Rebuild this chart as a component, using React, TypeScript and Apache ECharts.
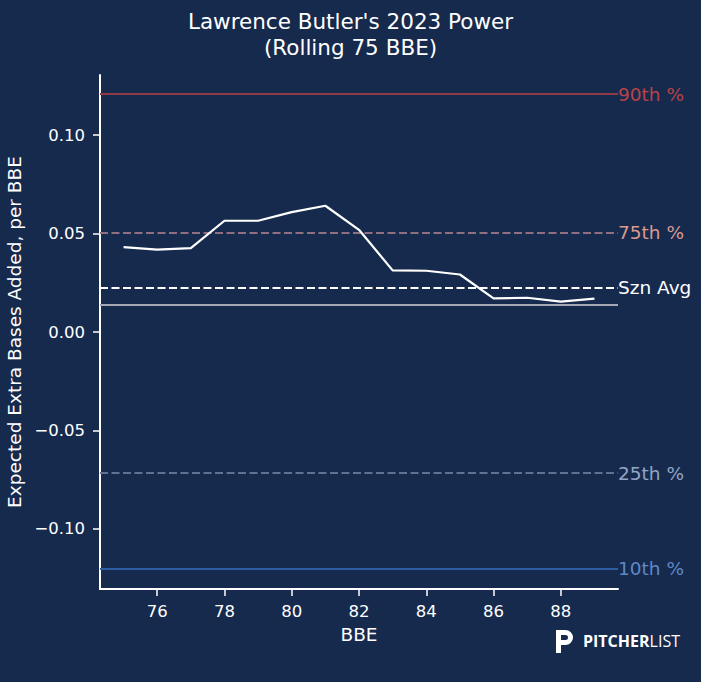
import React, { useEffect, useRef } from 'react';
import * as echarts from 'echarts';

// rolling 75 BBE window end points
const bbe = [75, 76, 77, 78, 79, 80, 81, 82, 83, 84, 85, 86, 87, 88, 89];
const xbaAdded = [
  0.0431, 0.0418, 0.0426, 0.0565, 0.0565, 0.0609, 0.0641, 0.0519, 0.0313, 0.0311,
  0.0292, 0.0171, 0.0174, 0.0154, 0.0169,
];

// reference lines (percentiles, season average, league line)
const refNames = ['90th %', '75th %', 'Szn Avg', '', '25th %', '10th %'];
const refValues = [0.1208, 0.0506, 0.0226, 0.0139, -0.0716, -0.1203];

const xTicks = [76, 78, 80, 82, 84, 86, 88];
const yTicks = [-0.1, -0.05, 0, 0.05, 0.1];

const refLineColors = ['#8e3a47', '#8f6f80', '#ffffff', '#a3a8b2', '#5f7292', '#2f5da3'];
const refTextColors = ['#b9434a', '#d99a90', '#ffffff', '#a3a8b2', '#92a6c6', '#5e88c6'];
const refDashed = [false, true, true, false, true, false];

const BG = '#162a4d';
const FONT = 'DejaVu Sans';

const pLogo =
  'M0 0 H9.5 A7.5 7.5 0 0 1 9.5 15 H5 V23 H0 Z M5 5 V10 H9.5 A2.5 2.5 0 0 0 9.5 5 Z';
echarts.graphic.registerShape('plLogo', echarts.graphic.extendPath(pLogo, {}));

const fmtY = (v: number) => (v < -1e-9 ? '\u2212' : '') + Math.abs(v).toFixed(2);

const App = () => {
  const chartRef = useRef<HTMLDivElement>(null);

  useEffect(() => {
    const chart = echarts.init(chartRef.current, null, { renderer: 'svg' });

    const option = {
      animation: false,
      backgroundColor: BG,
      textStyle: { fontFamily: FONT },
      title: [
        {
          text: "Lawrence Butler's 2023 Power",
          left: 'center',
          top: 5,
          textStyle: { color: '#fff', fontSize: 21.5, fontWeight: 'normal', fontFamily: FONT },
        },
        {
          text: '(Rolling 75 BBE)',
          left: 'center',
          top: 31,
          textStyle: { color: '#fff', fontSize: 21.5, fontWeight: 'normal', fontFamily: FONT },
        },
      ],
      grid: { left: 100, top: 75, width: 518, height: 514, outerBoundsMode: 'none', containLabel: false },
      xAxis: {
        type: 'value',
        min: 74.3,
        max: 89.7,
        name: 'BBE',
        nameLocation: 'middle',
        nameGap: 35,
        nameTextStyle: { color: '#fff', fontSize: 18.5, fontFamily: FONT },
        axisLine: { show: true, onZero: false, lineStyle: { color: '#fff', width: 2 } },
        axisTick: {
          show: true,
          length: 7,
          customValues: xTicks,
          lineStyle: { color: '#fff', width: 1.5 },
        },
        axisLabel: {
          customValues: xTicks,
          color: '#fff',
          fontSize: 16.5,
          margin: 14,
          fontFamily: FONT,
        },
        splitLine: { show: false },
      },
      yAxis: {
        type: 'value',
        min: -0.1305,
        max: 0.1305,
        name: 'Expected Extra Bases Added, per BBE',
        nameLocation: 'middle',
        nameGap: 73,
        nameTextStyle: { color: '#fff', fontSize: 18.5, fontFamily: FONT },
        axisLine: { show: true, onZero: false, lineStyle: { color: '#fff', width: 2 } },
        axisTick: {
          show: true,
          length: 7,
          customValues: yTicks,
          lineStyle: { color: '#fff', width: 1.5 },
        },
        axisLabel: {
          customValues: yTicks,
          color: '#fff',
          fontSize: 16.5,
          margin: 15,
          fontFamily: FONT,
          formatter: fmtY,
        },
        splitLine: { show: false },
      },
      series: [
        {
          name: 'refs',
          type: 'line',
          data: [],
          markLine: {
            silent: true,
            symbol: 'none',
            precision: 4,
            animation: false,
            data: refValues.map((v, i) => ({
              yAxis: v,
              lineStyle: {
                color: refLineColors[i],
                width: 2,
                type: refDashed[i] ? [8, 3.5] : 'solid',
              },
              label: {
                show: refNames[i] !== '',
                position: 'end',
                distance: 0,
                formatter: refNames[i],
                color: refTextColors[i],
                fontSize: 18.5,
                fontFamily: FONT,
              },
            })),
          },
        },
        {
          name: 'xBA',
          type: 'line',
          data: bbe.map((x, i) => [x, xbaAdded[i]]),
          symbol: 'none',
          lineStyle: { color: '#fff', width: 2.2 },
          z: 5,
        },
      ],
      graphic: [
        {
          type: 'plLogo',
          x: 556,
          y: 630,
          style: { fill: '#fff' },
        },
        {
          type: 'text',
          x: 583,
          y: 641,
          style: {
            text: '{a|PITCHER}{b|LIST}',
            verticalAlign: 'middle',
            rich: {
              a: { fill: '#fff', fontSize: 16, fontWeight: 'bold', fontFamily: 'Open Sans' },
              b: { fill: '#fff', fontSize: 16, fontWeight: 'normal', fontFamily: 'Open Sans' },
            },
          },
        },
      ],
    };

    chart.setOption(option);

    return () => {
      chart.dispose();
    };
  }, []);

  return <div ref={chartRef} style={{ width: 701, height: 682, position: 'absolute', left: 0, top: 0 }} />;
};

export default App;
